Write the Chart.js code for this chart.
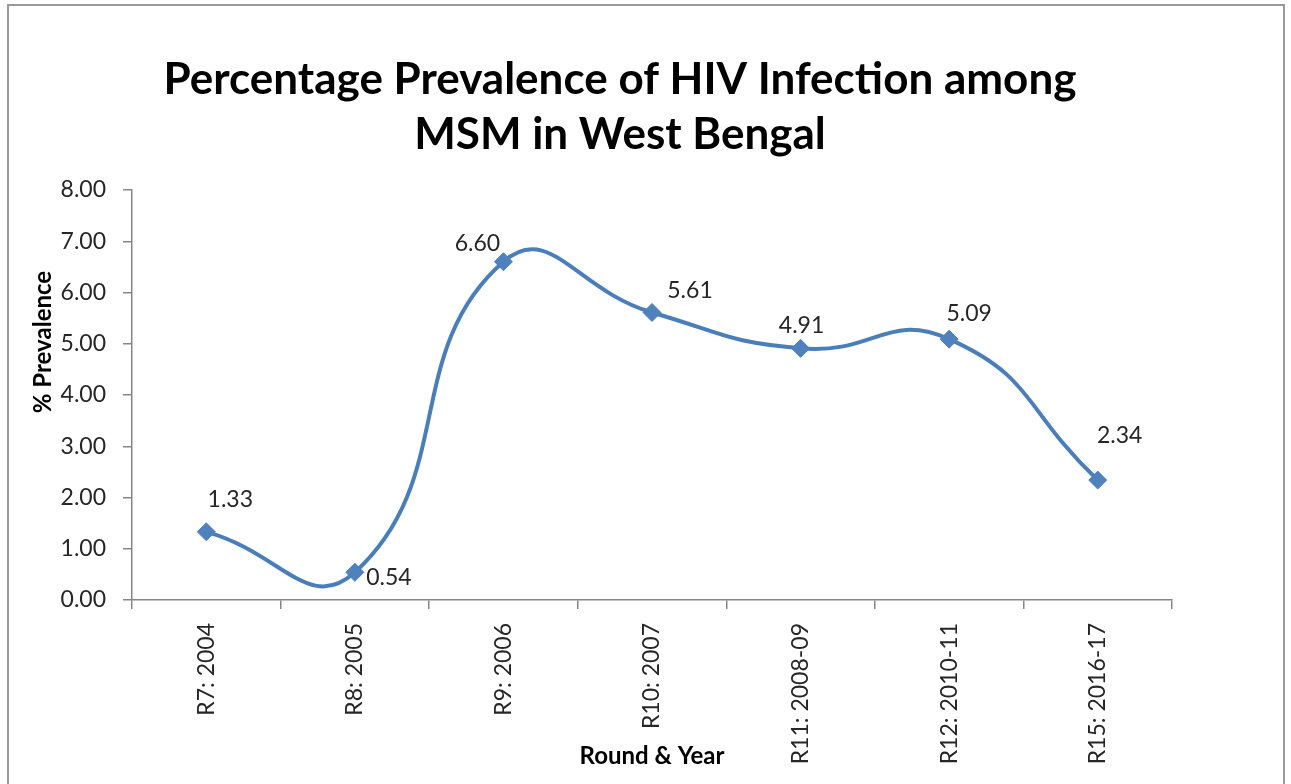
<!DOCTYPE html>
<html lang="en">
  <head>
    <meta charset="UTF-8" />
    <title>Percentage Prevalence of HIV Infection among MSM in West Bengal</title>
    <script src="https://cdn.jsdelivr.net/npm/chart.js"></script>
    <style>
      html,
      body {
        margin: 0;
        padding: 0;
        width: 1291px;
        height: 784px;
        overflow: hidden;
        background: #ffffff;
      }
      /* outer frame of the chart object */
      #frame {
        position: absolute;
        left: 7px;
        top: 4px;
        width: 1278px;
        height: 800px;
        border: 2px solid #9a9a9a;
        box-sizing: border-box;
      }
      #myChart {
        position: absolute;
        left: 0;
        top: 0;
      }
    </style>
  </head>
  <body>
    <div id="frame"></div>
    <canvas id="myChart" width="1240" height="784"></canvas>
    <script>
      // categories (round & year)
      var rounds = [
        "R7: 2004",
        "R8: 2005",
        "R9: 2006",
        "R10: 2007",
        "R11: 2008-09",
        "R12: 2010-11",
        "R15: 2016-17",
      ];

      // % prevalence
      var prevalence = [1.33, 0.54, 6.6, 5.61, 4.91, 5.09, 2.34];

      // y axis ticks
      var yTicks = [0, 1, 2, 3, 4, 5, 6, 7, 8];

      var chartTitle = [
        "Percentage Prevalence of HIV Infection among",
        "MSM in West Bengal",
      ];
      var yTitle = "% Prevalence";
      var xTitle = "Round & Year";

      // where each value label sits relative to its marker (px)
      var labelOffsets = [
        [24, -32],
        [34, 5],
        [-26, -18],
        [38, -22],
        [1, -23],
        [20, -26],
        [22, -44],
      ];

      var axisColor = "#868686";
      var textColor = "#262626";

      // value labels + rotated y axis title
      var extraText = {
        id: "extraText",
        afterDatasetsDraw: function (chart) {
          var ctx = chart.ctx;
          var meta = chart.getDatasetMeta(0);
          ctx.save();
          ctx.font = "23px Lato";
          ctx.fillStyle = textColor;
          ctx.textAlign = "center";
          ctx.textBaseline = "middle";
          meta.data.forEach(function (pt, i) {
            var off = labelOffsets[i];
            ctx.fillText(
              prevalence[i].toFixed(2),
              pt.x + off[0],
              pt.y + off[1]
            );
          });

          // y axis title
          ctx.font = "bold 24px Lato";
          ctx.fillStyle = "#000";
          ctx.translate(43, 342);
          ctx.rotate(-Math.PI / 2);
          ctx.fillText(yTitle, 0, 0);
          ctx.restore();
        },
      };

      var ctx = document.getElementById("myChart").getContext("2d");
      var myChart = new Chart(ctx, {
        type: "line",
        data: {
          labels: rounds,
          datasets: [
            {
              label: "% Prevalence",
              data: prevalence,
              borderColor: "#4A7EBB",
              borderWidth: 4,
              tension: 0.5,
              capBezierPoints: false,
              pointStyle: "rectRot",
              pointRadius: 9,
              pointBackgroundColor: "#4F81BD",
              pointBorderColor: "#4F81BD",
              pointBorderWidth: 1,
              fill: false,
            },
          ],
        },
        options: {
          responsive: false,
          animation: false,
          layout: { padding: 0 },
          plugins: {
            legend: { display: false },
            tooltip: { enabled: false },
            title: {
              display: true,
              text: chartTitle,
              color: "#000",
              font: { family: "Lato", size: 44, weight: "bold", lineHeight: 1.25 },
              padding: { top: 52, bottom: 28 },
            },
          },
          scales: {
            x: {
              offset: true,
              afterFit: function (scale) {
                scale.height = 184;
              },
              grid: {
                offset: true,
                drawOnChartArea: false,
                tickLength: 9,
                color: axisColor,
                lineWidth: 1.5,
              },
              border: { color: axisColor, width: 1.5 },
              ticks: {
                autoSkip: false,
                minRotation: 90,
                maxRotation: 90,
                padding: 14,
                color: textColor,
                font: { family: "Lato", size: 23 },
              },
              title: {
                display: true,
                text: xTitle,
                color: "#000",
                font: { family: "Lato", size: 24, weight: "bold" },
                padding: { top: 0, bottom: 13 },
              },
            },
            y: {
              min: yTicks[0],
              max: yTicks[yTicks.length - 1],
              afterFit: function (scale) {
                scale.width = 132;
              },
              afterBuildTicks: function (scale) {
                scale.ticks = yTicks.map(function (v) {
                  return { value: v };
                });
              },
              grid: {
                drawOnChartArea: false,
                tickLength: 9,
                color: axisColor,
                lineWidth: 1.5,
              },
              border: { color: axisColor, width: 1.5 },
              ticks: {
                padding: 17,
                color: textColor,
                font: { family: "Lato", size: 23 },
                callback: function (v) {
                  return Number(v).toFixed(2);
                },
              },
            },
            // empty right-hand box so the title stays centred like the original
            spacer: {
              type: "linear",
              position: "right",
              display: true,
              grid: { display: false },
              border: { display: false },
              ticks: { display: false },
              afterFit: function (scale) {
                scale.width = 68;
              },
            },
          },
        },
        plugins: [extraText],
      });
    </script>
  </body>
</html>
